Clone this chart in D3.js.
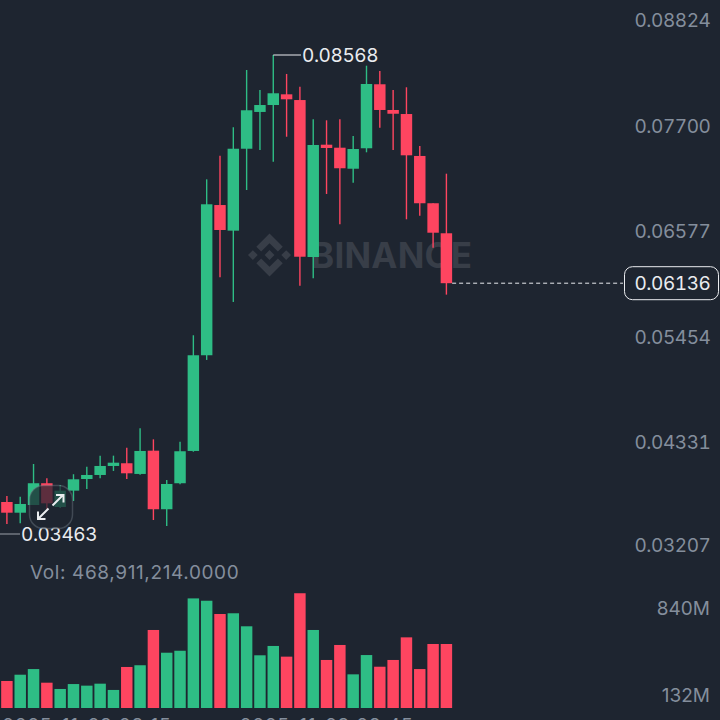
<!DOCTYPE html>
<html>
<head>
<meta charset="utf-8">
<script src="https://cdnjs.cloudflare.com/ajax/libs/d3/7.8.5/d3.min.js"></script>
<style>
  html, body { margin: 0; padding: 0; background: #1E2530; overflow: hidden; }
  svg { display: block; }
  text { font-family: Inter, "Noto Sans", sans-serif; }
  .tnum { font-variant-numeric: tabular-nums; font-feature-settings: "tnum" 1; letter-spacing: -0.42px; }
</style>
</head>
<body>
<svg width="720" height="720"></svg>
<script>
// DATA

var opens = [0.03804, 0.03690, 0.03772, 0.04004, 0.03751, 0.03925, 0.04049, 0.04092, 0.04188, 0.04217, 0.04103, 0.04351, 0.03727, 0.04004, 0.04348, 0.05368, 0.06969, 0.06696, 0.07569, 0.07961, 0.08035, 0.08149, 0.08088, 0.06415, 0.07612, 0.07580, 0.07356, 0.07574, 0.08256, 0.07982, 0.07939, 0.07492, 0.06988, 0.06668];
var closes = [0.03690, 0.03783, 0.04004, 0.03790, 0.03925, 0.04046, 0.04092, 0.04188, 0.04223, 0.04110, 0.04348, 0.03727, 0.03996, 0.04345, 0.05368, 0.06977, 0.06703, 0.07569, 0.07979, 0.08035, 0.08160, 0.08096, 0.06418, 0.07609, 0.07577, 0.07361, 0.07566, 0.08259, 0.07982, 0.07942, 0.07499, 0.06988, 0.06674, 0.06136];
var highs = [0.03868, 0.03861, 0.04209, 0.04057, 0.03985, 0.04100, 0.04181, 0.04298, 0.04298, 0.04383, 0.04590, 0.04472, 0.04039, 0.04447, 0.05581, 0.07243, 0.07495, 0.07798, 0.08408, 0.08195, 0.08568, 0.08366, 0.08230, 0.07883, 0.07872, 0.07883, 0.07705, 0.08454, 0.08397, 0.08195, 0.08224, 0.07598, 0.06988, 0.07303];
var lows = [0.03570, 0.03577, 0.03772, 0.03730, 0.03740, 0.03815, 0.03943, 0.04057, 0.04135, 0.04049, 0.04095, 0.03612, 0.03549, 0.03993, 0.04340, 0.05318, 0.06199, 0.05936, 0.07129, 0.07556, 0.07431, 0.07697, 0.06109, 0.06188, 0.07087, 0.06764, 0.07207, 0.07531, 0.07793, 0.07556, 0.06817, 0.06855, 0.06514, 0.06014];
var volumes = [168, 219, 265, 154, 103, 143, 130, 146, 95, 282, 296, 583, 398, 414, 840, 821, 713, 719, 613, 377, 453, 366, 882, 583, 339, 461, 222, 379, 284, 339, 523, 265, 469, 468.911214];

var priceTicks = [0.08824, 0.07700, 0.06577, 0.05454, 0.04331, 0.03207];
var volTicks = [840, 132];
var timeLabels = ["2025-11-23 08:15", "2025-11-23 09:45"];
var timeLabelIndex = [6, 24];
var lowValue = 0.03463;
var lastPrice = 0.06136;

// SETUP

var svg = d3.select("svg"),
    green = "#2EBD85",
    red = "#FE4560",
    grey = "#848E9C",
    bright = "#EAECEF",
    fontSize = 19;

var idx = d3.range(opens.length);

var x = d3.scaleBand().domain(idx).range([-0.69, 454]).padding(0.14);
var y = d3.scaleLinear().domain([0.08568, 0.03463]).range([55, 534]);
var yVol = d3.scaleLinear().domain([840, 132]).range([598.4, 685.4]);
var volBase = 708;

function cx(i) { return x(i) + x.bandwidth() / 2; }
function colour(i) { return closes[i] >= opens[i] ? green : red; }

// WATERMARK

var logoPaths = [
  "M38.73 53.2l24.59-24.58 24.6 24.6 14.3-14.31L63.32 0 24.43 38.9l14.3 14.3z",
  "M0 63.31l14.3-14.31 14.31 14.31-14.31 14.3z",
  "M38.73 73.41l24.59 24.59 24.6-24.6 14.31 14.29-38.9 38.91-38.91-38.88-.02-.02 14.33-14.29z",
  "M98.01 63.31l14.3-14.31 14.31 14.31-14.31 14.3z",
  "M77.83 63.3L63.32 48.78 52.59 59.51l-1.24 1.23-2.54 2.54 14.51 14.5 14.51-14.47z"
];
var wm = svg.append("g").attr("class", "watermark");
wm.append("g")
    .attr("transform", "translate(248,233.5) scale(0.34)")
    .selectAll("path").data(logoPaths).enter().append("path")
    .attr("d", function (d) { return d; })
    .attr("fill", "#383E48");
wm.append("text")
    .attr("x", 311).attr("y", 268)
    .attr("font-size", 35).attr("font-weight", 700)
    .attr("textLength", 161).attr("lengthAdjust", "spacing")
    .attr("fill", "#383E48")
    .text("BINANCE");

// CANDLES

var candles = svg.append("g").attr("class", "candles");

candles.selectAll(".wick").data(idx).enter().append("line")
    .attr("class", "wick")
    .attr("x1", cx).attr("x2", cx)
    .attr("y1", function (i) { return y(highs[i]); })
    .attr("y2", function (i) { return y(lows[i]); })
    .attr("stroke", colour)
    .attr("stroke-width", 1.4);

candles.selectAll(".body").data(idx).enter().append("rect")
    .attr("class", "body")
    .attr("x", function (i) { return x(i); })
    .attr("width", x.bandwidth())
    .attr("y", function (i) { return y(Math.max(opens[i], closes[i])); })
    .attr("height", function (i) { return Math.abs(y(opens[i]) - y(closes[i])); })
    .attr("fill", colour);

// VOLUME

svg.append("g").attr("class", "volume")
    .selectAll("rect").data(idx).enter().append("rect")
    .attr("x", function (i) { return x(i); })
    .attr("width", x.bandwidth())
    .attr("y", function (i) { return yVol(volumes[i]); })
    .attr("height", function (i) { return volBase - yVol(volumes[i]); })
    .attr("fill", colour);

// AXES

var priceAxis = svg.append("g")
    .attr("transform", "translate(710.5,0)")
    .call(d3.axisLeft(y).tickValues(priceTicks).tickSize(0).tickFormat(d3.format(".5f")));
priceAxis.select(".domain").remove();
priceAxis.selectAll("text")
    .attr("class", "tnum")
    .attr("x", 0)
    .attr("dy", "0.32em")
    // the last tick label sits a little higher in the original
    .attr("transform", function (d) { return "translate(0," + (d === 0.03207 ? -12.5 : -10.2) + ")"; })
    .attr("font-size", fontSize)
    .attr("fill", grey)
    .style("font-family", "Inter, sans-serif");

var volAxis = svg.append("g")
    .attr("transform", "translate(710,0)")
    .call(d3.axisLeft(yVol).tickValues(volTicks).tickSize(0).tickFormat(function (d) { return d + "M"; }));
volAxis.select(".domain").remove();
volAxis.selectAll("text")
    .attr("x", 0)
    .attr("dy", "0.32em")
    .attr("transform", "translate(0,9.8)")
    .attr("font-size", fontSize)
    .attr("fill", grey)
    .style("font-family", "Inter, sans-serif");

svg.append("g").selectAll("text").data(timeLabels).enter().append("text")
    .attr("x", function (d, i) { return cx(timeLabelIndex[i]); })
    .attr("y", 732)
    .attr("text-anchor", "middle")
    .attr("font-size", fontSize)
    .attr("letter-spacing", 0.8)
    .attr("fill", grey)
    .text(function (d) { return d; });

// ANNOTATIONS

var hiIndex = d3.maxIndex(highs);

svg.append("path")
    .attr("d", "M" + cx(hiIndex) + "," + y(highs[hiIndex]) + "H301")
    .attr("fill", "none").attr("stroke", bright).attr("stroke-width", 1);
svg.append("text")
    .attr("class", "tnum")
    .attr("x", 302).attr("y", y(highs[hiIndex])).attr("dy", "0.36em")
    .attr("font-size", fontSize).attr("fill", bright)
    .text(d3.format(".5f")(highs[hiIndex]));

svg.append("path")
    .attr("d", "M0," + y(lowValue) + "H20")
    .attr("fill", "none").attr("stroke", "#9aa0a8").attr("stroke-width", 1);
svg.append("text")
    .attr("class", "tnum")
    .attr("x", 21).attr("y", y(lowValue)).attr("dy", "0.36em")
    .attr("font-size", fontSize).attr("fill", bright)
    .text(d3.format(".5f")(lowValue));

svg.append("text")
    .attr("x", 30).attr("y", 579)
    .attr("font-size", fontSize).attr("fill", grey)
    .attr("letter-spacing", 0.62)
    .text("Vol: " + d3.format(",.4f")(volumes[volumes.length - 1] * 1e6));

// last price line + box
svg.append("line")
    .attr("x1", x(33) + x.bandwidth()).attr("x2", 623)
    .attr("y1", y(lastPrice)).attr("y2", y(lastPrice))
    .attr("stroke", bright).attr("stroke-width", 1).attr("stroke-dasharray", "4,3");
svg.append("rect")
    .attr("x", 624.5).attr("y", y(lastPrice) - 16.5)
    .attr("width", 94).attr("height", 33).attr("rx", 8)
    .attr("fill", "#1E2530").attr("stroke", bright).attr("stroke-width", 1);
svg.append("text")
    .attr("class", "tnum")
    .attr("x", 710.5).attr("y", y(lastPrice)).attr("dy", "0.36em")
    .attr("text-anchor", "end")
    .attr("font-size", fontSize).attr("fill", bright)
    .text(d3.format(".5f")(lastPrice));

// expand button over the chart
var btn = svg.append("g").attr("class", "expand");
btn.append("rect")
    .attr("x", 29.5).attr("y", 485.5).attr("width", 43).attr("height", 43).attr("rx", 14)
    .attr("fill", "rgba(30,37,48,0.72)")
    .attr("stroke", "rgba(132,142,156,0.35)").attr("stroke-width", 1.5);
btn.selectAll("path")
    .data(["M52.5,505.5L63,495M56,495H63.5V502.5", "M48.5,508.5L38,519M45.5,519H38V511.5"])
    .enter().append("path")
    .attr("d", function (d) { return d; })
    .attr("fill", "none").attr("stroke", "#EAECEF").attr("stroke-width", 2);
</script>
</body>
</html>
